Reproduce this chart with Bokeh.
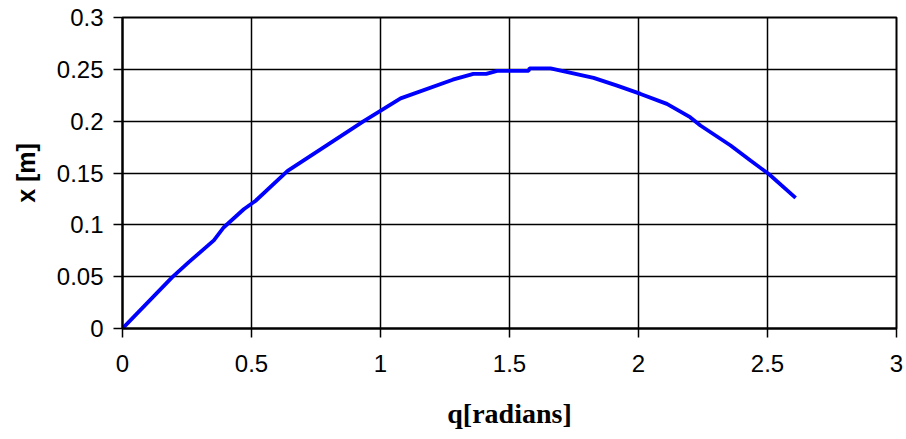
from bokeh.plotting import figure
from bokeh.models import FixedTicker, Range1d
from bokeh.embed import file_html
from bokeh.resources import INLINE

theta = [0, 0.193, 0.257, 0.354, 0.393, 0.470, 0.515, 0.640, 0.818, 0.935, 1.078,
         1.28, 1.36, 1.41, 1.452, 1.574, 1.578, 1.659, 1.826, 1.917, 2.008, 2.11,
         2.2, 2.24, 2.357, 2.434, 2.505, 2.609]
xpos = [0, 0.0495, 0.064, 0.085, 0.0977, 0.115, 0.123, 0.152, 0.181, 0.2, 0.222,
        0.240, 0.2456, 0.2456, 0.2485, 0.2485, 0.251, 0.251, 0.2418, 0.2343, 0.2263, 0.2167,
        0.2038, 0.1958, 0.1765, 0.162, 0.149, 0.126]

x_ticks = [0, 0.5, 1, 1.5, 2, 2.5, 3]
x_tick_labels = ["0", "0.5", "1", "1.5", "2", "2.5", "3"]
y_ticks = [0, 0.05, 0.1, 0.15, 0.2, 0.25, 0.3]
y_tick_labels = ["0", "0.05", "0.1", "0.15", "0.2", "0.25", "0.3"]

p = figure(width=906, height=439, output_backend="svg", toolbar_location=None,
           x_range=Range1d(0, 3), y_range=Range1d(0, 0.3),
           min_border_left=122, min_border_right=10, min_border_top=17, min_border_bottom=111)

p.line(theta, xpos, line_color="#0000FF", line_width=3.8)

p.outline_line_color = "black"
p.outline_line_width = 2

for ax, ticks, labels in ((p.xaxis[0], x_ticks, x_tick_labels), (p.yaxis[0], y_ticks, y_tick_labels)):
    ax.ticker = FixedTicker(ticks=ticks)
    ax.major_label_overrides = {t: l for t, l in zip(ticks, labels)}
    ax.minor_tick_line_color = None
    ax.major_tick_in = 0
    ax.major_tick_out = 9
    ax.major_tick_line_color = "black"
    ax.major_tick_line_width = 1.5
    ax.axis_line_color = "black"
    ax.axis_line_width = 2
    ax.major_label_text_font = "Liberation Sans"
    ax.major_label_text_font_size = "24px"
    ax.major_label_text_color = "black"
    ax.axis_label_text_color = "black"
    ax.axis_label_text_font_style = "bold"

p.xaxis.major_label_standoff = 17
p.yaxis.major_label_standoff = 10
p.xaxis.axis_label = "q[radians]"
p.xaxis.axis_label_text_font = "serif"
p.xaxis.axis_label_text_font_size = "28px"
p.xaxis.axis_label_standoff = 23
p.yaxis.axis_label = "x [m]"
p.yaxis.axis_label_text_font = "Liberation Sans"
p.yaxis.axis_label_text_font_size = "25px"
p.yaxis.axis_label_standoff = 14

p.xgrid.ticker = FixedTicker(ticks=x_ticks)
p.ygrid.ticker = FixedTicker(ticks=y_ticks)
p.grid.grid_line_color = "black"
p.grid.grid_line_width = 1.5
p.grid.grid_line_alpha = 1.0

open("out.html", "w").write(file_html(p, INLINE))
